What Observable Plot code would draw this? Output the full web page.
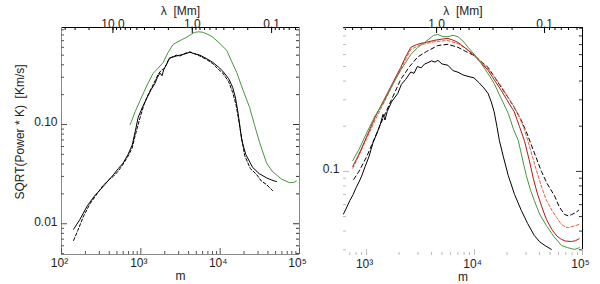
<!DOCTYPE html>
<html><head><meta charset="utf-8">
<script src="https://cdn.jsdelivr.net/npm/d3@7"></script>
<script src="https://cdn.jsdelivr.net/npm/@observablehq/plot@0.6"></script>
<style>
body{margin:0;background:#fff;}
#wrap{display:flex;width:600px;height:284px;}
</style></head><body><div id="wrap"></div>
<script>
// conversion wavelength (Mm) <-> harmonic degree m
const LAMBDA_C = 4450;
const lambdaTicks = [10, 1, 0.1];
const lambdaLabels = ["10.0", "1.0", "0.1"];
const mTicks = [1e2, 1e3, 1e4, 1e5];
const mLabels = ["10²", "10³", "10⁴", "10⁵"];
const leftYTicks = [0.01, 0.1];
const leftYLabels = ["0.01", "0.10"];
const rightYTicks = [0.1];
const rightYLabels = ["0.1"];
const yTitle = "SQRT(Power * K)\u00a0\u00a0[Km/s]";
const topTitle = "λ\u00a0\u00a0[Mm]";
const xTitle = "m";

// LEFT panel series: [m, value]
const leftSolid = [[142,0.0088],[170,0.011],[212,0.0152],[260,0.019],[308,0.022],[370,0.026],[449,0.031],[520,0.036],[600,0.041],[690,0.05],[778,0.062],[850,0.085],[925,0.118],[1050,0.15],[1200,0.187],[1350,0.225],[1510,0.26],[1620,0.3],[1745,0.33],[1850,0.31],[1950,0.36],[2137,0.41],[2300,0.47],[2470,0.475],[2800,0.49],[3110,0.5],[3600,0.515],[4150,0.535],[4600,0.52],[5550,0.5],[6800,0.46],[8070,0.423],[9500,0.38],[10780,0.345],[12800,0.29],[14400,0.236],[15500,0.19],[16630,0.138],[17600,0.1],[18660,0.07],[21000,0.05],[25650,0.037],[31000,0.032],[38450,0.029],[45000,0.0275],[51300,0.0266]];
const leftDashed = [[142,0.0068],[160,0.0085],[190,0.012],[230,0.016],[280,0.02],[330,0.024],[400,0.028],[449,0.03],[520,0.034],[600,0.04],[690,0.048],[778,0.058],[840,0.075],[925,0.1],[1000,0.125],[1100,0.16],[1200,0.19],[1350,0.23],[1510,0.275],[1650,0.32],[1800,0.35],[2000,0.37],[2200,0.44],[2470,0.48],[2800,0.5],[3110,0.49],[3600,0.52],[4150,0.54],[4700,0.52],[5550,0.49],[6800,0.45],[8070,0.41],[9500,0.36],[10780,0.33],[12800,0.27],[14400,0.21],[15800,0.16],[17000,0.115],[18300,0.08],[20370,0.0487],[24000,0.036],[28800,0.0313],[33000,0.027],[38450,0.0248],[45800,0.0216]];
const leftGreen = [[735,0.10],[850,0.135],[980,0.175],[1200,0.25],[1426,0.327],[1650,0.37],[1905,0.42],[2200,0.53],[2543,0.64],[3100,0.70],[3810,0.76],[4300,0.81],[4790,0.85],[5400,0.86],[6030,0.85],[7000,0.81],[8070,0.76],[10000,0.65],[12100,0.56],[14000,0.43],[16150,0.335],[19500,0.22],[23500,0.149],[27000,0.1],[31400,0.066],[38400,0.041],[45000,0.034],[51300,0.031],[60000,0.028],[74600,0.026],[84000,0.026],[91300,0.027]];

// RIGHT panel series: [m, value]
const rightBlack = [[611,0.052],[650,0.057],[700,0.064],[750,0.07],[800,0.078],[850,0.085],[900,0.093],[970,0.108],[1050,0.125],[1100,0.14],[1150,0.156],[1250,0.18],[1350,0.21],[1420,0.24],[1480,0.22],[1550,0.25],[1700,0.29],[1942,0.33],[2100,0.38],[2300,0.41],[2566,0.46],[2750,0.45],[2950,0.5],[3200,0.49],[3450,0.52],[3690,0.53],[4000,0.545],[4300,0.535],[4573,0.55],[5000,0.52],[5665,0.51],[6300,0.47],[7030,0.458],[7800,0.44],[8700,0.43],[9890,0.42],[11000,0.39],[12200,0.36],[13360,0.33],[14300,0.29],[15180,0.25],[16100,0.2],[17000,0.16],[18500,0.125],[20510,0.094],[23500,0.07],[27100,0.055],[31000,0.045],[35750,0.0374],[40000,0.034],[45000,0.032],[51500,0.0302]];
const rightBlackDashed = [[760,0.0885],[850,0.1],[1000,0.125],[1200,0.17],[1439,0.23],[1700,0.3],[2070,0.41],[2500,0.5],[2981,0.58],[3600,0.63],[4573,0.69],[5665,0.703],[7030,0.671],[8300,0.63],[9890,0.593],[11500,0.54],[13360,0.493],[15500,0.42],[17650,0.363],[20500,0.31],[23300,0.267],[27000,0.22],[30500,0.18],[33570,0.15],[37000,0.125],[41600,0.1],[47000,0.083],[54900,0.069],[61000,0.058],[68000,0.0517],[74000,0.0505],[79100,0.0515],[86000,0.053],[92000,0.055]];
const rightRed = [[745,0.108],[850,0.13],[1000,0.17],[1200,0.23],[1440,0.297],[1750,0.39],[2070,0.493],[2300,0.58],[2566,0.671],[2900,0.7],[3180,0.713],[3700,0.73],[4198,0.746],[4900,0.76],[5665,0.77],[6300,0.75],[7030,0.724],[8300,0.66],[9890,0.593],[11500,0.53],[13360,0.471],[15500,0.4],[17650,0.347],[20500,0.29],[23300,0.25],[26000,0.2],[29000,0.16],[32000,0.12],[35000,0.09],[38000,0.072],[42000,0.058],[46200,0.048],[52000,0.041],[58000,0.037],[63800,0.0352],[70000,0.0343],[79100,0.0341],[86000,0.0345],[93000,0.0355]];
const rightRedDashed = [[745,0.105],[850,0.128],[1000,0.165],[1200,0.22],[1440,0.285],[1750,0.38],[2070,0.48],[2566,0.65],[3180,0.7],[4198,0.73],[5000,0.74],[5665,0.745],[7030,0.71],[8300,0.66],[9890,0.6],[11500,0.54],[13360,0.48],[15500,0.42],[17650,0.37],[20500,0.31],[23300,0.27],[26000,0.23],[29000,0.19],[32000,0.15],[35000,0.12],[38500,0.095],[42000,0.078],[46000,0.065],[52000,0.055],[58000,0.049],[63800,0.0443],[70000,0.0425],[74100,0.0423],[82000,0.043],[93000,0.0443]];
const rightGreen = [[745,0.118],[850,0.14],[1000,0.18],[1200,0.235],[1440,0.29],[1780,0.39],[2100,0.48],[2566,0.6],[2981,0.671],[3500,0.73],[4198,0.808],[4573,0.818],[5100,0.79],[5665,0.79],[6310,0.808],[7030,0.79],[7800,0.74],[8710,0.671],[10000,0.6],[11490,0.525],[13300,0.45],[15180,0.386],[17500,0.31],[20510,0.244],[23000,0.19],[25400,0.161],[27500,0.125],[30130,0.094],[33000,0.075],[35750,0.064],[40000,0.052],[46200,0.0436],[54000,0.037],[63800,0.0321],[73000,0.031],[84300,0.0302],[93800,0.031]];

const GREEN = "#4a9440", RED = "#b01818", ORANGE = "#e0603a";
const FONT = "'Liberation Sans', Arial, Helvetica, sans-serif";

function logTicks(lo, hi) {
  const major = [], minor = [];
  for (let e = Math.floor(Math.log10(lo)) - 1; e <= Math.ceil(Math.log10(hi)); e++) {
    for (let k = 1; k < 10; k++) {
      const v = +(k * Math.pow(10, e)).toPrecision(6);
      if (v < lo * 0.9999 || v > hi * 1.0001) continue;
      (k === 1 ? major : minor).push(v);
    }
  }
  return {major, minor};
}

function panel(cfg) {
  const {width, height, mL, mR, mT, mB, xDom, yDom, series, yTicks, yLabels, yTitleText, faintLeftBottom, bg} = cfg;
  const iW = width - mL - mR, iH = height - mT - mB;
  const xt = logTicks(xDom[0], xDom[1]);
  const yt = logTicks(yDom[0], yDom[1]);
  const lamMinor = [];
  for (let e = -2; e <= 2; e++) for (let k = 1; k < 10; k++) {
    const lam = k * Math.pow(10, e), m = LAMBDA_C / lam;
    if (m >= xDom[0] && m <= xDom[1]) lamMinor.push(m);
  }
  const lamMajor = lambdaTicks.map(l => LAMBDA_C / l).filter(m => m >= xDom[0] && m <= xDom[1]);
  const lamShown = lambdaTicks.map((l, i) => ({m: LAMBDA_C / l, t: lambdaLabels[i]})).filter(d => d.m >= xDom[0] && d.m <= xDom[1]);
  const edgeCol = "#8a8a8a";
  const tickCol = faintLeftBottom ? "#bbb" : "#555";
  const marks = [
    Plot.ruleY([yDom[1]], {stroke: "#000", strokeWidth: 1}),
    Plot.ruleX([xDom[1]], {stroke: faintLeftBottom ? "#000" : edgeCol, strokeWidth: 1}),
    ...(faintLeftBottom ? [] : [
      Plot.ruleX([xDom[0]], {stroke: edgeCol}),
      Plot.ruleY([yDom[0]], {stroke: edgeCol})
    ]),
    Plot.tickX(xt.major, {x: d => d, insetTop: iH - 6, stroke: tickCol}),
    Plot.tickX(xt.minor, {x: d => d, insetTop: iH - 3, stroke: tickCol}),
    Plot.tickX(lamMajor, {x: d => d, insetBottom: iH - 6, stroke: "#000"}),
    Plot.tickX(lamMinor, {x: d => d, insetBottom: iH - 3, stroke: "#000"}),
    Plot.tickY(yt.major, {y: d => d, insetRight: iW - 6, stroke: tickCol}),
    Plot.tickY(yt.minor, {y: d => d, insetRight: iW - 3, stroke: tickCol}),
    Plot.tickY(yt.major, {y: d => d, insetLeft: iW - 6, stroke: "#333"}),
    Plot.tickY(yt.minor, {y: d => d, insetLeft: iW - 3, stroke: "#333"}),
    Plot.text(mTicks.filter(d => d >= xDom[0] * 0.999 && d <= xDom[1] * 1.001), {x: d => d, text: d => mLabels[mTicks.indexOf(d)], frameAnchor: "bottom", textAnchor: "middle", dy: 12, dx: -2, fill: "#222"}),
    Plot.text(lamShown, {x: d => d.m, text: d => d.t, frameAnchor: "top", textAnchor: "middle", dy: -8, fill: "#222"}),
    Plot.text(yTicks, {y: d => d, text: (d, i) => yLabels[i], frameAnchor: "left", textAnchor: "end", dx: -4, dy: -2, fill: "#222"}),
    Plot.text([topTitle], {frameAnchor: "top", textAnchor: "middle", dy: -21, fill: "#222"}),
    Plot.text([xTitle], {frameAnchor: "bottom", textAnchor: "middle", dy: 25, fill: "#222"}),
    ...(yTitleText ? [Plot.text([yTitleText], {frameAnchor: "left", textAnchor: "middle", rotate: -90, dx: -41, dy: -9, fill: "#222"})] : []),
    ...series.map(s => Plot.line(s.data, {x: d => d[0], y: d => d[1], stroke: s.color, strokeWidth: 1, strokeDasharray: s.dash || null}))
  ];
  return Plot.plot({
    width, height,
    marginLeft: mL, marginRight: mR, marginTop: mT, marginBottom: mB,
    x: {type: "log", domain: xDom, axis: null},
    y: {type: "log", domain: yDom, axis: null},
    style: {fontFamily: FONT, fontSize: "12px", background: bg, overflow: "visible"},
    marks
  });
}

const left = panel({
  width: 300, height: 284, mL: 61, mR: 1, mT: 27, mB: 30,
  xDom: [100, 1e5], yDom: [0.0049, 0.95], bg: "#fff",
  yTicks: leftYTicks, yLabels: leftYLabels, yTitleText: yTitle, faintLeftBottom: false,
  series: [
    {data: leftGreen, color: GREEN},
    {data: leftDashed, color: "#000", dash: "3,2"},
    {data: leftSolid, color: "#000"}
  ]
});
const right = panel({
  width: 300, height: 284, mL: 43, mR: 18, mT: 27, mB: 29,
  xDom: [611, 1e5], yDom: [0.0275, 0.91], bg: "transparent",
  yTicks: rightYTicks, yLabels: rightYLabels, yTitleText: null, faintLeftBottom: true,
  series: [
    {data: rightBlackDashed, color: "#000", dash: "4,3"},
    {data: rightRedDashed, color: ORANGE, dash: "3,2"},
    {data: rightRed, color: RED},
    {data: rightGreen, color: GREEN},
    {data: rightBlack, color: "#000"}
  ]
});
document.getElementById("wrap").append(left, right);
</script>
</body></html>
